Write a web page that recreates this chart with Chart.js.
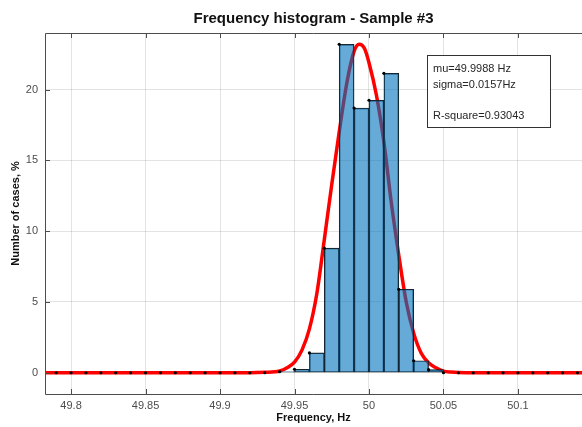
<!DOCTYPE html>
<html>
<head>
<meta charset="utf-8">
<script src="https://cdn.jsdelivr.net/npm/chart.js@4/dist/chart.umd.min.js"></script>
<style>
  body { margin: 0; background: #fff; }
  #wrap { width: 582px; height: 427px; }
</style>
</head>
<body>
<div id="wrap"><canvas id="myChart" width="582" height="427"></canvas></div>
<script>
// histogram bin left edges (Hz) and share of cases (%)
const edges = [49.79, 49.80, 49.81, 49.82, 49.83, 49.84, 49.85, 49.86, 49.87, 49.88,
  49.89, 49.90, 49.91, 49.92, 49.93, 49.94, 49.95, 49.96, 49.97, 49.98,
  49.99, 50.00, 50.01, 50.02, 50.03, 50.04, 50.05, 50.06, 50.07, 50.08,
  50.09, 50.10, 50.11, 50.12, 50.13, 50.14];
const cases = [0, 0, 0, 0, 0, 0, 0, 0, 0, 0,
  0, 0, 0, 0, 0, 0.08, 0.25, 1.4, 8.8, 23.2,
  18.7, 19.25, 21.15, 5.9, 0.85, 0.22, 0, 0, 0, 0,
  0, 0, 0, 0, 0, 0];
const binWidth = 0.01;

// fitted curve, points
const fitX = [49.78, 49.92, 49.93, 49.94, 49.945, 49.95, 49.955, 49.96, 49.965, 49.97,
  49.975, 49.98, 49.985, 49.99, 49.9935, 49.997, 50.0, 50.005, 50.01, 50.015,
  50.02, 50.025, 50.03, 50.035, 50.04, 50.045, 50.05, 50.055, 50.065, 50.15];
const fitY = [0, 0, 0.03, 0.12, 0.35, 0.75, 1.6, 3.1, 5.6, 9.4,
  13.3, 17.0, 20.4, 22.7, 23.2, 22.9, 21.9, 19.6, 16.3, 12.0,
  8.3, 5.0, 2.8, 1.4, 0.7, 0.35, 0.12, 0.05, 0, 0];

const xTicks = [49.8, 49.85, 49.9, 49.95, 50, 50.05, 50.1];
const yTicks = [0, 5, 10, 15, 20];
const infoLines = ['mu=49.9988 Hz', 'sigma=0.0157Hz', '', 'R-square=0.93043'];

const FONT = "'Liberation Sans', Arial, Helvetica, sans-serif";

const bars = [];
edges.forEach((e, i) => {
  if (cases[i] > 0) bars.push({ x: e + binWidth / 2, y: cases[i] });
});
const dots = edges.map((e, i) => ({ x: e, y: cases[i] }));
const curve = fitX.map((x, i) => ({ x: x, y: fitY[i] }));

// box around the axes, inward ticks and the text box with fit results
const boxPlugin = {
  id: 'boxPlugin',
  afterDraw(chart) {
    const ctx = chart.ctx;
    const a = chart.chartArea;
    const xs = chart.scales.x, ys = chart.scales.y;
    ctx.save();
    ctx.strokeStyle = '#4d4d4d';
    ctx.lineWidth = 1;
    ctx.beginPath();
    ctx.moveTo(a.left + 0.5, a.bottom + 0.5);
    ctx.lineTo(a.left + 0.5, a.top + 0.5);
    ctx.lineTo(a.right, a.top + 0.5);
    ctx.moveTo(a.left + 0.5, a.bottom + 0.5);
    ctx.lineTo(a.right, a.bottom + 0.5);
    xTicks.forEach(v => {
      const px = Math.round(xs.getPixelForValue(v)) + 0.5;
      ctx.moveTo(px, a.bottom); ctx.lineTo(px, a.bottom - 5);
      ctx.moveTo(px, a.top); ctx.lineTo(px, a.top + 5);
    });
    yTicks.forEach(v => {
      const py = Math.round(ys.getPixelForValue(v)) + 0.5;
      ctx.moveTo(a.left, py); ctx.lineTo(a.left + 5, py);
    });
    ctx.stroke();

    // fit info box
    const bx = 427, by = 55, bw = 123, bh = 72;
    ctx.fillStyle = '#fff';
    ctx.fillRect(bx, by, bw, bh);
    ctx.strokeStyle = '#333';
    ctx.strokeRect(bx + 0.5, by + 0.5, bw, bh);
    ctx.fillStyle = '#262626';
    ctx.font = '11px ' + FONT;
    ctx.textBaseline = 'middle';
    ctx.textAlign = 'left';
    infoLines.forEach((t, i) => {
      if (t) ctx.fillText(t, bx + 6, by + 14 + i * 15.5);
    });
    ctx.restore();
  }
};

const ctx = document.getElementById('myChart').getContext('2d');
const myChart = new Chart(ctx, {
  type: 'bar',
  data: {
    datasets: [
      {
        type: 'scatter',
        data: dots,
        showLine: false,
        pointRadius: 1.6,
        pointBackgroundColor: '#000',
        pointBorderWidth: 0,
        order: 0
      },
      {
        type: 'bar',
        data: bars,
        backgroundColor: 'rgba(0, 114, 189, 0.6)',
        borderColor: '#1a1a1a',
        borderWidth: 0.8,
        borderSkipped: false,
        barPercentage: 1,
        categoryPercentage: 1,
        order: 1
      },
      {
        type: 'line',
        data: curve,
        borderColor: '#ff0000',
        borderWidth: 3.5,
        pointRadius: 0,
        fill: false,
        cubicInterpolationMode: 'monotone',
        order: 2
      }
    ]
  },
  options: {
    responsive: false,
    animation: false,
    layout: { autoPadding: false, padding: { left: 0, right: 0, top: 0, bottom: 0 } },
    plugins: {
      legend: { display: false },
      tooltip: { enabled: false },
      title: {
        display: true,
        text: 'Frequency histogram - Sample #3',
        fullSize: false,
        color: '#111',
        font: { family: FONT, size: 15, weight: 'bold' },
        padding: { top: 10, bottom: 5 }
      }
    },
    scales: {
      x: {
        type: 'linear',
        offset: false,
        min: 49.7825,
        max: 50.143,
        afterBuildTicks: s => { s.ticks = xTicks.map(v => ({ value: v })); },
        afterFit: s => { s.height = 33; s.paddingLeft = 0; s.paddingRight = 0; },
        grid: { color: 'rgba(38,38,38,0.13)', drawTicks: false, offset: false },
        border: { display: false },
        ticks: {
          color: '#4d4d4d',
          padding: 5,
          maxRotation: 0,
          font: { family: FONT, size: 11 },
          callback: v => String(v)
        },
        title: {
          display: true,
          text: 'Frequency, Hz',
          color: '#111',
          font: { family: FONT, size: 11, weight: 'bold' },
          padding: { top: 0, bottom: 2 }
        }
      },
      y: {
        min: -1.5,
        max: 24,
        afterBuildTicks: s => { s.ticks = yTicks.map(v => ({ value: v })); },
        afterFit: s => { s.width = 45; s.paddingTop = 0; s.paddingBottom = 0; },
        grid: { color: 'rgba(38,38,38,0.13)', drawTicks: false },
        border: { display: false },
        ticks: {
          color: '#4d4d4d',
          padding: 7,
          font: { family: FONT, size: 11 }
        },
        title: {
          display: true,
          text: 'Number of cases, %',
          color: '#111',
          font: { family: FONT, size: 11, weight: 'bold' },
          padding: { top: 9, bottom: 0 }
        }
      }
    }
  },
  plugins: [boxPlugin]
});
</script>
</body>
</html>
